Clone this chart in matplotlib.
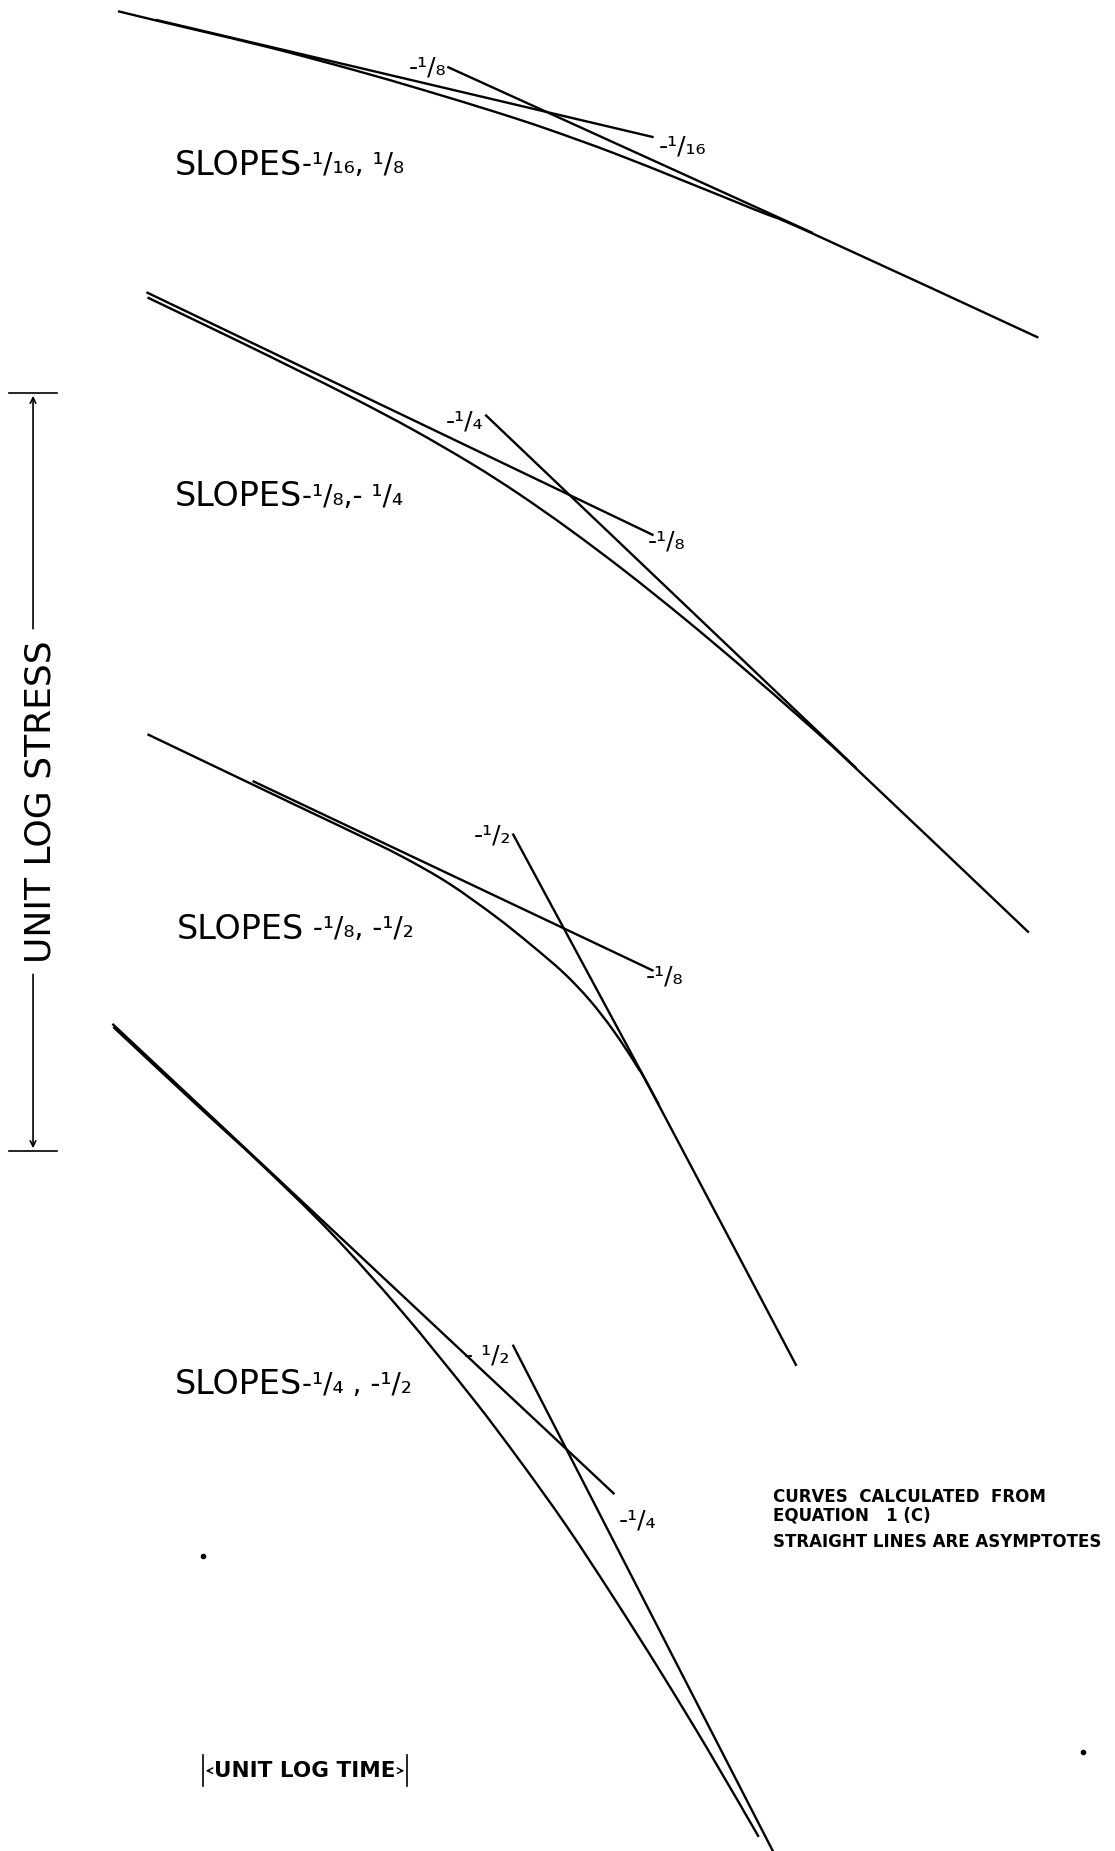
import matplotlib
matplotlib.use("Agg")
import matplotlib.pyplot as plt
from matplotlib.path import Path
from matplotlib.patches import PathPatch

# Sheet is laid out in drawing units, origin top-left, y running downward.
SHEET_W, SHEET_H = 945, 1568
LW = 1.7

# ── Panel 1: slopes -1/16, -1/8 ──────────────────────────
p1_curve_x = [100, 133, 166, 230, 300, 360, 420, 463, 520, 580, 640, 688, 880]
p1_curve_y = [9.5, 17.5, 25.3, 40.6, 59.3, 76.6, 94.9, 109, 129.6, 153.4, 177.7, 197.5, 286]
p1_asym_a = ([133, 553], [17, 116])     # -1/16
p1_asym_b = ([380, 688], [57, 197])     # -1/8

# ── Panel 2: slopes -1/8, -1/4 ───────────────────────────
p2_curve_x = [125, 200, 251, 300, 350, 400, 440, 483, 530, 580, 630, 680, 725, 872]
p2_curve_y = [252, 288, 313, 337.5, 364, 393, 418.6, 448.7, 484, 524, 566, 609.5, 650.5, 790]
p2_asym_a = ([125, 553], [248, 453])    # -1/8
p2_asym_b = ([412, 725], [352, 650])    # -1/4

# ── Panel 3: slopes -1/8, -1/2 ───────────────────────────
p3_curve_x = [125, 215, 260, 301, 340, 380, 420, 450, 478, 500, 520, 540, 558, 675]
p3_curve_y = [622, 665, 686.5, 706, 725.2, 748.1, 776.4, 800.3, 824.4, 847.5, 873.2, 903.5, 935.5, 1157]
p3_asym_a = ([215, 553], [662, 822])    # -1/8
p3_asym_b = ([435, 558], [707, 935])    # -1/2

# ── Panel 4: slopes -1/4, -1/2 ───────────────────────────
p4_curve_x = [96, 170, 220, 280, 340, 400, 440, 480, 520, 560, 600, 643]
p4_curve_y = [870, 939, 985, 1043.8, 1110.3, 1183.8, 1236.6, 1292.5, 1353.2, 1416.4, 1482.2, 1556]
p4_asym_a = ([96, 520], [868, 1265])    # -1/4
p4_asym_b = ([435, 655], [1140, 1568])  # -1/2

# slope labels at the free ends of the asymptotes: (x, y, text, align)
end_labels = [
    (378, 57, "-¹/₈", "right"), (558, 124, "-¹/₁₆", "left"),
    (410, 357, "-¹/₄", "right"), (549, 459, "-¹/₈", "left"),
    (433, 708, "-¹/₂", "right"), (547, 827, "-¹/₈", "left"),
    (432, 1148, "- ¹/₂", "right"), (524, 1288, "-¹/₄", "left"),
]

# panel captions: (x, y, words, fractions)
captions = [
    (148, 140, "SLOPES", "-¹/₁₆, ¹/₈"),
    (148, 421, "SLOPES", "-¹/₈,- ¹/₄"),
    (150, 787, "SLOPES", " -¹/₈, -¹/₂"),
    (148, 1173, "SLOPES", "-¹/₄ , -¹/₂"),
]

note_lines = ["CURVES  CALCULATED  FROM", "EQUATION   1 (C)",
              "STRAIGHT LINES ARE ASYMPTOTES"]
note_y = [1268, 1284, 1306]

stress_bar = (28, 333, 975)        # x, top, bottom of unit log stress
time_bar = (172, 345, 1500)        # left, right, y of unit log time
dots = ([172, 918], [1318, 1484])


def smooth_curve(xs, ys):
    """Smooth stroke through the plotted points (Catmull-Rom as cubic Beziers)."""
    pts = list(zip(xs, ys))
    verts, codes = [pts[0]], [Path.MOVETO]
    n = len(pts)
    for i in range(n - 1):
        p0 = pts[max(i - 1, 0)]
        p1, p2 = pts[i], pts[i + 1]
        p3 = pts[min(i + 2, n - 1)]
        c1 = (p1[0] + (p2[0] - p0[0]) / 6, p1[1] + (p2[1] - p0[1]) / 6)
        c2 = (p2[0] - (p3[0] - p1[0]) / 6, p2[1] - (p3[1] - p1[1]) / 6)
        verts += [c1, c2, p2]
        codes += [Path.CURVE4] * 3
    return Path(verts, codes)


fig = plt.figure(figsize=(11.15, 18.51), dpi=100)
ax = fig.add_axes([0, 0, 1, 1])
ax.set_xlim(0, SHEET_W)
ax.set_ylim(SHEET_H, 0)
ax.axis("off")

for cx, cy, a, b in [
    (p1_curve_x, p1_curve_y, p1_asym_a, p1_asym_b),
    (p2_curve_x, p2_curve_y, p2_asym_a, p2_asym_b),
    (p3_curve_x, p3_curve_y, p3_asym_a, p3_asym_b),
    (p4_curve_x, p4_curve_y, p4_asym_a, p4_asym_b),
]:
    ax.add_patch(PathPatch(smooth_curve(cx, cy), facecolor="none",
                           edgecolor="black", lw=LW))
    ax.plot(*a, color="black", lw=LW)
    ax.plot(*b, color="black", lw=LW)

for x, y, t, ha in end_labels:
    ax.text(x, y, t, ha=ha, va="center", fontsize=18)

for x, y, word, frac in captions:
    w = ax.text(x, y, word, ha="left", va="center", fontsize=24)
    ax.annotate(frac, xy=(1, 0.5), xycoords=w, ha="left", va="center",
                fontsize=20)

for t, y in zip(note_lines, note_y):
    ax.text(655, y, t, ha="left", va="center", fontsize=12, fontweight="bold")

# unit log stress dimension
sx, s_top, s_bot = stress_bar
ax.plot([sx - 20, sx + 20], [s_top, s_top], color="black", lw=1.2)
ax.plot([sx - 20, sx + 20], [s_bot, s_bot], color="black", lw=1.2)
ax.annotate("", xy=(sx, s_top), xytext=(sx, 535),
            arrowprops=dict(arrowstyle="->", lw=1.2, color="black"))
ax.annotate("", xy=(sx, s_bot), xytext=(sx, 823),
            arrowprops=dict(arrowstyle="->", lw=1.2, color="black"))
ax.text(sx + 6, (535 + 823) / 2, "UNIT LOG STRESS", rotation=90,
        ha="center", va="center", fontsize=26)

# unit log time dimension
tl, tr, ty = time_bar
ax.plot([tl, tl], [ty - 13, ty + 13], color="black", lw=1.2)
ax.plot([tr, tr], [ty - 13, ty + 13], color="black", lw=1.2)
ax.annotate("", xy=(tl, ty), xytext=(tl + 8, ty),
            arrowprops=dict(arrowstyle="->", lw=1.0, color="black"))
ax.annotate("", xy=(tr, ty), xytext=(tr - 8, ty),
            arrowprops=dict(arrowstyle="->", lw=1.0, color="black"))
ax.text((tl + tr) / 2, ty, "UNIT LOG TIME", ha="center", va="center",
        fontsize=15.5, fontweight="bold")

ax.plot(*dots, "o", color="black", ms=3)

fig.savefig("out.png", dpi=100, facecolor="white")
